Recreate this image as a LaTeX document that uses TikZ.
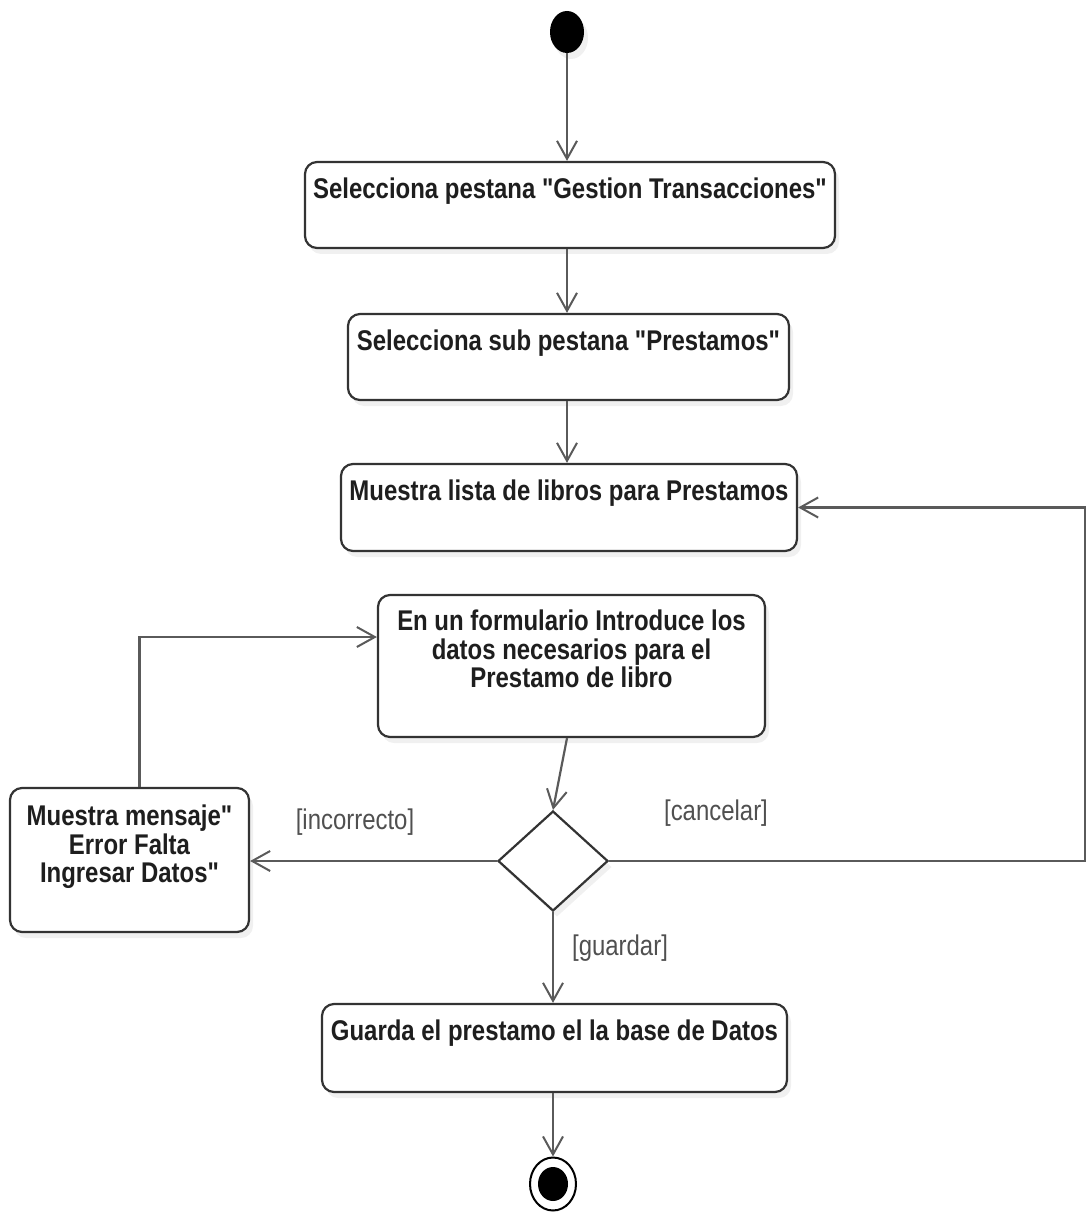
\documentclass[tikz,border=0pt]{standalone}
\usepackage{fontspec}
\setmainfont[FakeStretch=0.84, Ligatures=TeXOff]{Liberation Sans}
\usetikzlibrary{arrows.meta,shapes.geometric,shadows}

\definecolor{linegray}{HTML}{5A5A5A}
\definecolor{boxgray}{HTML}{333333}
\definecolor{txtgray}{HTML}{1E1E1E}
\definecolor{guardgray}{HTML}{505050}

\tikzset{
  action/.style={draw=boxgray, line width=2.2pt, rounded corners=12pt, fill=white,
    inner sep=0pt, drop shadow={opacity=0.12, shadow xshift=4pt, shadow yshift=-6pt}},
  acttext/.style={anchor=north, align=center, inner sep=0pt, text=txtgray,
    font=\fontsize{28.5}{28.5}\selectfont\bfseries},
  flow/.style={draw=linegray, line width=2.2pt,
    -{Straight Barb[length=18pt, width=20pt, line width=2pt]}},
  guard/.style={text=guardgray, inner sep=0pt, font=\fontsize{28.5}{30}\selectfont},
}

\begin{document}
\begin{tikzpicture}[x=1pt, y=-1pt]
    \useasboundingbox (0,0) rectangle (1088,1214);

    % Start and end
    \node[ellipse, fill=black, minimum width=34pt, minimum height=42pt, inner sep=0pt,
      drop shadow={opacity=0.12, shadow xshift=4pt, shadow yshift=-6pt}] (inicio) at (567,32) {};
    \node[ellipse, draw=black, line width=2pt, fill=white, minimum width=46pt,
      minimum height=53pt, inner sep=0pt] (fin) at (553,1184) {};
    \node[ellipse, fill=black, minimum width=30pt, minimum height=34pt, inner sep=0pt]
      (fin-p) at (fin) {};

    % Actions
    \node[action, minimum width=530pt, minimum height=86pt] (pestana) at (570,205) {};
    \node[acttext] (pestana-t) at ([yshift=-17pt]pestana.north)
      {Selecciona pestana "Gestion Transacciones"};

    \node[action, minimum width=441pt, minimum height=86pt] (subpest) at (568.5,357) {};
    \node[acttext] (subpest-t) at ([yshift=-17pt]subpest.north)
      {Selecciona sub pestana "Prestamos"};

    \node[action, minimum width=456pt, minimum height=87pt] (lista) at (569,507.5) {};
    \node[acttext] (lista-t) at ([yshift=-17pt]lista.north)
      {Muestra lista de libros para Prestamos};

    \node[action, minimum width=387pt, minimum height=142pt] (form) at (571.5,666) {};
    \node[acttext] (form-t) at ([yshift=-16pt]form.north)
      {En un formulario Introduce los\\datos necesarios para el\\Prestamo de libro};

    \node[action, minimum width=239pt, minimum height=144pt] (error) at (129.5,860) {};
    \node[acttext] (error-t) at ([yshift=-18pt]error.north)
      {Muestra mensaje"\\Error Falta\\Ingresar Datos"};

    \node[action, minimum width=465pt, minimum height=88pt] (guarda) at (554.5,1048) {};
    \node[acttext] (guarda-t) at ([yshift=-17pt]guarda.north)
      {Guarda el prestamo el la base de Datos};

    % Decision
    \node[diamond, draw=boxgray, line width=2.2pt, fill=white, minimum width=110pt,
      minimum height=100pt, inner sep=0pt,
      drop shadow={opacity=0.12, shadow xshift=4pt, shadow yshift=-6pt}] (decision) at (553,861) {};

    \coordinate (eje) at (567,0);
    \coordinate (borde) at (1085,0);

    % Flow
    \draw[flow] (inicio.south) -- (eje |- pestana.north);
    \draw[flow] (eje |- pestana.south) -- (eje |- subpest.north);
    \draw[flow] (eje |- subpest.south) -- (eje |- lista.north);
    \draw[flow] (eje |- form.south) -- (decision.north);
    \draw[flow] (decision.west) -- (decision.west -| error.east);
    \draw[flow] ([xshift=10pt]error.north) |- ([yshift=29pt]form.west);
    \draw[flow] (decision.east) -- (decision.east -| borde) |- (lista.east);
    \draw[flow] (decision.south) -- (decision.south |- guarda.north);
    \draw[flow] (guarda.south -| fin) -- (fin.north);

    % Guards
    \node[guard] (g-inc) at (355,822) {[incorrecto]};
    \node[guard] (g-can) at (716,813) {[cancelar]};
    \node[guard] (g-gua) at (620,948) {[guardar]};
\end{tikzpicture}
\end{document}
